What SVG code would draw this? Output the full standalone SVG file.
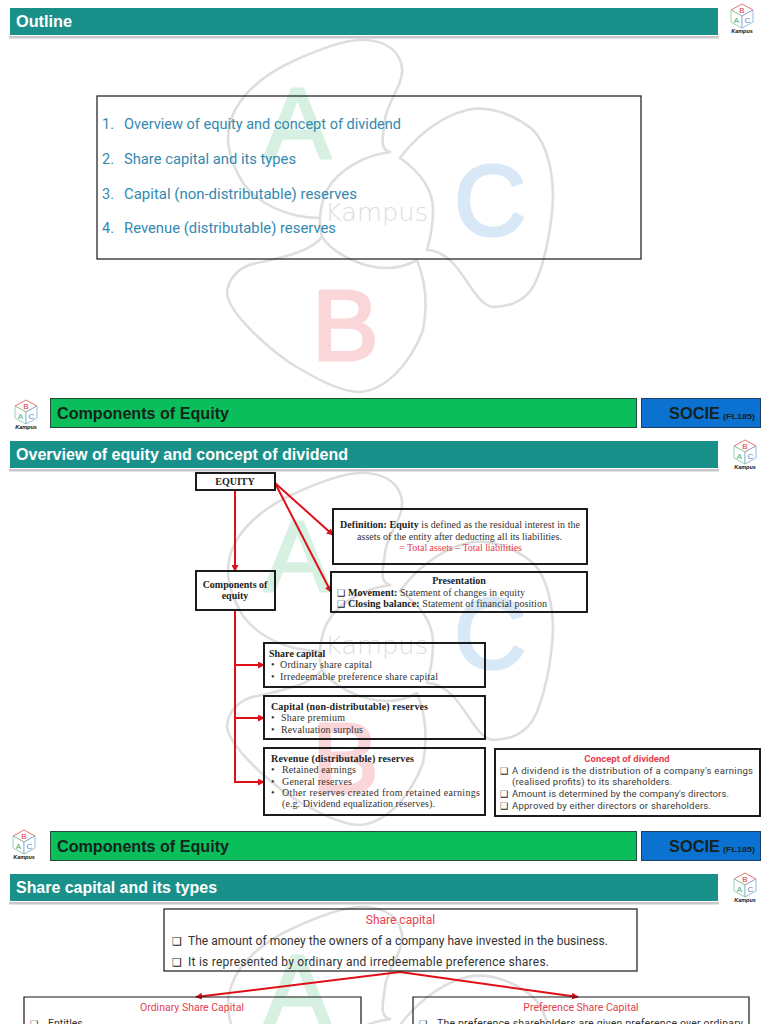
<svg xmlns="http://www.w3.org/2000/svg" width="768" height="1024" viewBox="0 0 768 1024">
<style>
text{font-family:"Liberation Sans",Arial,sans-serif}
.hd{font-weight:700;font-size:16px;fill:#fff}
.gt{font-weight:700;font-size:16px;fill:#14241c}
.bx{fill:none;stroke:#111;stroke-width:1.9}
.bxt{fill:none;stroke:#161616;stroke-width:1.2}
.ol{font-family:Roboto,"Liberation Sans",sans-serif;font-size:14.5px;fill:#3389b0}
.s{font-family:"Liberation Serif","DejaVu Serif",serif;font-size:10px;fill:#333}
.sb{font-family:"Liberation Serif","DejaVu Serif",serif;font-size:10px;font-weight:700;fill:#222}
.r{font-family:Roboto,"Liberation Sans",sans-serif;font-size:9.5px;fill:#3a3a3a}
.rr{font-family:Roboto,"Liberation Sans",sans-serif;fill:#e5404f}
.rl{font-family:Roboto,"Liberation Sans",sans-serif;font-size:12px;fill:#333}
.ck{font-family:"DejaVu Sans",sans-serif;font-size:9px;fill:#222}
.lk{fill:none;stroke:#e01019;stroke-width:2}
.wl{fill:none;stroke:#dedede;stroke-width:2.6;stroke-linejoin:round;stroke-linecap:round}
.ltr{stroke-width:3;stroke-linejoin:round;font-size:100px}
.lg{fill:#fff;stroke-width:.8}
</style>
<defs>
<marker id="ah" viewBox="0 0 8 8" refX="7" refY="4" markerWidth="3.500" markerHeight="3.500" orient="auto"><path d="M0 0L8 4L0 8z" fill="#e01019"/></marker>
<g id="wm">
<path class="wl" d="M390 152C378 150 384 132 385 120C386 104 404 84 402 68C400 52 388 42 367 40C345 38 310 53 285 65C262 77 240 95 232 117C224 137 229 160 243 183C257 202 285 218 320 218"/>
<path class="wl" d="M390 152C365 155 338 170 327 190C320 204 318 224 322 237C332 252 360 268 387 268C400 268 410 264 417 260"/>
<path class="wl" d="M322 237C312 250 290 256 257 263C240 266 228 278 227 293C228 310 258 340 290 363C315 378 340 392 360 392C385 390 410 365 423 330C427 310 427 285 417 260"/>
<path class="wl" d="M400 158C412 142 435 118 467 110C490 105 515 115 533 130C548 145 553 175 553 197C552 225 545 265 533 287C525 300 510 307 493 307C478 305 470 282 453 263C445 255 435 250 427 250"/>
<path class="wl" d="M400 158C420 172 433 190 433 210C433 225 430 240 427 250"/>
<text class="ltr" x="264" y="158" fill="#d6f1e2" stroke="#d6f1e2">A</text>
<text class="ltr" x="312" y="360" fill="#fbd6d9" stroke="#fbd6d9">B</text>
<text class="ltr" x="454" y="235" fill="#d8e8f6" stroke="#d8e8f6">C</text>
<text x="325" y="221" font-size="25" font-weight="200" fill="#dddddd" style="font-family:'DejaVu Sans',sans-serif" textLength="103" lengthAdjust="spacingAndGlyphs">Kampus</text>
</g>
<g id="logo">
<path class="lg" stroke="#d9534f" d="M0-12L11-6L0 0L-11-6z"/>
<path class="lg" stroke="#7fc99c" d="M-11-6L0 0V12L-11 6z"/>
<path class="lg" stroke="#7fa8d6" d="M11-6L0 0V12L11 6z"/>
<text x="0" y="-3.500" font-size="8" text-anchor="middle" fill="#d9333f">B</text>
<text x="-5.500" y="6.500" font-size="8" text-anchor="middle" fill="#3fae6f">A</text>
<text x="5.500" y="6.500" font-size="8" text-anchor="middle" fill="#4a86c8">C</text>
<text x="0" y="17" font-size="5.500" font-weight="700" font-style="italic" text-anchor="middle" fill="#111">Kampus</text>
</g>
</defs>
<rect width="768" height="1024" fill="#fff"/>
<g id="watermarks">
<use href="#wm"/>
<use href="#wm" y="433"/>
<use href="#wm" y="867"/>
</g>

<g id="outline-header">
<rect x="9" y="36" width="710" height="2.500" fill="#c9c6cc"/>
<rect x="10" y="8" width="708" height="27" fill="#19908a"/>
<text class="hd" x="16" y="27" textLength="56" lengthAdjust="spacingAndGlyphs">Outline</text>
<use href="#logo" x="742" y="16"/>
</g>
<g id="outline-box">
<rect class="bxt" x="97" y="96" width="544" height="163"/>
<text class="ol" x="102" y="129">1.</text><text class="ol" x="124" y="129" textLength="277" lengthAdjust="spacingAndGlyphs">Overview of equity and concept of dividend</text>
<text class="ol" x="102" y="164">2.</text><text class="ol" x="124" y="164" textLength="172" lengthAdjust="spacingAndGlyphs">Share capital and its types</text>
<text class="ol" x="102" y="199">3.</text><text class="ol" x="124" y="199" textLength="233" lengthAdjust="spacingAndGlyphs">Capital (non-distributable) reserves</text>
<text class="ol" x="102" y="233">4.</text><text class="ol" x="124" y="233" textLength="212" lengthAdjust="spacingAndGlyphs">Revenue (distributable) reserves</text>
</g>

<g id="banner-1">
<use href="#logo" x="26" y="412"/>
<rect x="50.500" y="398.500" width="586" height="29" fill="#0abf5b" stroke="#2a4a36"/>
<rect x="641.500" y="398.500" width="119" height="29" fill="#0c72d2" stroke="#1f3f60"/>
<text class="gt" x="57" y="419" textLength="172" lengthAdjust="spacingAndGlyphs">Components of Equity</text>
<text class="gt" x="669" y="419" textLength="51" lengthAdjust="spacingAndGlyphs">SOCIE</text>
<text x="723" y="419" font-size="7.500" font-weight="700" fill="#14241c" textLength="32" lengthAdjust="spacingAndGlyphs">(FL185)</text>
</g>

<g id="overview-header">
<rect x="9" y="469" width="710" height="2.500" fill="#c9c6cc"/>
<rect x="10" y="441" width="708" height="27" fill="#19908a"/>
<text class="hd" x="16" y="460" textLength="332" lengthAdjust="spacingAndGlyphs">Overview of equity and concept of dividend</text>
<use href="#logo" x="745" y="452"/>
</g>

<g id="connectors-overview">
<path class="lk" marker-end="url(#ah)" d="M235 490V571"/>
<path class="lk" marker-end="url(#ah)" d="M275 483L333 535"/>
<path class="lk" marker-end="url(#ah)" d="M275 483L331 592"/>
<path class="lk" d="M235 610V782"/>
<path class="lk" marker-end="url(#ah)" d="M235 665H264"/>
<path class="lk" marker-end="url(#ah)" d="M235 718H264"/>
<path class="lk" marker-end="url(#ah)" d="M234 782H264"/>
</g>
<g id="equity">
<rect class="bx" x="196" y="473" width="79" height="17"/>
<text class="sb" x="235" y="485" text-anchor="middle">EQUITY</text>
</g>
<g id="components">
<rect class="bx" x="196" y="571" width="79" height="39"/>
<text class="sb" x="235" y="588" text-anchor="middle">Components of</text>
<text class="sb" x="235" y="599" text-anchor="middle">equity</text>
</g>
<g id="definition">
<rect class="bx" x="333" y="509" width="254" height="55"/>
<text class="s" x="340" y="528" textLength="240" lengthAdjust="spacing"><tspan class="sb">Definition: Equity</tspan> is defined as the residual interest in the</text>
<text class="s" x="357" y="540" textLength="205" lengthAdjust="spacing">assets of the entity after deducting all its liabilities.</text>
<text class="s" x="399" y="551" textLength="123" lengthAdjust="spacing" style="fill:#e5404f">= Total assets – Total liabilities</text>
</g>
<g id="presentation">
<rect class="bx" x="331" y="572" width="256" height="40"/>
<text class="sb" x="459" y="584" text-anchor="middle">Presentation</text>
<text class="ck" x="337" y="596">❑</text>
<text class="s" x="348" y="596" textLength="177" lengthAdjust="spacing"><tspan class="sb">Movement:</tspan> Statement of changes in equity</text>
<text class="ck" x="337" y="607">❑</text>
<text class="s" x="348" y="607" textLength="199" lengthAdjust="spacing"><tspan class="sb">Closing balance:</tspan> Statement of financial position</text>
</g>
<g id="share-capital">
<rect class="bx" x="264" y="643" width="221" height="44"/>
<text class="sb" x="269" y="657">Share capital</text>
<text class="s" x="271" y="668">•</text><text class="s" x="280" y="668" textLength="92" lengthAdjust="spacing">Ordinary share capital</text>
<text class="s" x="271" y="680">•</text><text class="s" x="280" y="680" textLength="158" lengthAdjust="spacing">Irredeemable preference share capital</text>
</g>
<g id="capital-reserves">
<rect class="bx" x="264" y="696" width="221" height="43"/>
<text class="sb" x="271" y="710" textLength="157" lengthAdjust="spacing">Capital (non-distributable) reserves</text>
<text class="s" x="271" y="721">•</text><text class="s" x="281" y="721" textLength="64" lengthAdjust="spacing">Share premium</text>
<text class="s" x="271" y="733">•</text><text class="s" x="281" y="733" textLength="82" lengthAdjust="spacing">Revaluation surplus</text>
</g>
<g id="revenue-reserves">
<rect class="bx" x="264" y="748" width="221" height="67"/>
<text class="sb" x="271" y="762" textLength="143" lengthAdjust="spacing">Revenue (distributable) reserves</text>
<text class="s" x="271" y="773">•</text><text class="s" x="282" y="773" textLength="74" lengthAdjust="spacing">Retained earnings</text>
<text class="s" x="271" y="785">•</text><text class="s" x="282" y="785" textLength="70" lengthAdjust="spacing">General reserves</text>
<text class="s" x="271" y="796">•</text><text class="s" x="282" y="796" textLength="198" lengthAdjust="spacing">Other reserves created from retained earnings</text>
<text class="s" x="282" y="807" textLength="153" lengthAdjust="spacing">(e.g. Dividend equalization reserves).</text>
</g>
<g id="concept">
<rect class="bx" x="495" y="749" width="265" height="67"/>
<text class="rr" x="627" y="762" font-size="9.500" font-weight="700" text-anchor="middle">Concept of dividend</text>
<text class="ck" x="500" y="774">❑</text><text class="r" x="512" y="774" textLength="241" lengthAdjust="spacing">A dividend is the distribution of a company's earnings</text>
<text class="r" x="512" y="785" textLength="160" lengthAdjust="spacing">(realised profits) to its shareholders.</text>
<text class="ck" x="500" y="797">❑</text><text class="r" x="512" y="797" textLength="217" lengthAdjust="spacing">Amount is determined by the company's directors.</text>
<text class="ck" x="500" y="809">❑</text><text class="r" x="512" y="809" textLength="199" lengthAdjust="spacing">Approved by either directors or shareholders.</text>
</g>

<g id="banner-2">
<use href="#logo" x="24" y="842"/>
<rect x="50.500" y="831.500" width="586" height="29" fill="#0abf5b" stroke="#2a4a36"/>
<rect x="641.500" y="831.500" width="119" height="29" fill="#0c72d2" stroke="#1f3f60"/>
<text class="gt" x="57" y="852" textLength="172" lengthAdjust="spacingAndGlyphs">Components of Equity</text>
<text class="gt" x="669" y="852" textLength="51" lengthAdjust="spacingAndGlyphs">SOCIE</text>
<text x="723" y="852" font-size="7.500" font-weight="700" fill="#14241c" textLength="32" lengthAdjust="spacingAndGlyphs">(FL185)</text>
</g>

<g id="types-header">
<rect x="9" y="902" width="710" height="2.500" fill="#c9c6cc"/>
<rect x="10" y="874" width="708" height="27" fill="#19908a"/>
<text class="hd" x="16" y="893" textLength="201" lengthAdjust="spacingAndGlyphs">Share capital and its types</text>
<use href="#logo" x="745" y="885"/>
</g>

<g id="connectors-types">
<path class="lk" marker-end="url(#ah)" d="M400 972L196 997"/>
<path class="lk" marker-end="url(#ah)" d="M400 972L578 997"/>
</g>
<g id="share-capital-def">
<rect class="bxt" x="164" y="909" width="473" height="62"/>
<text class="rr" x="400.500" y="924" font-size="12" text-anchor="middle">Share capital</text>
<text class="ck" style="font-size:11px" x="172" y="945">❑</text><text class="rl" x="188" y="945" textLength="420" lengthAdjust="spacing">The amount of money the owners of a company have invested in the business.</text>
<text class="ck" style="font-size:11px" x="172" y="966">❑</text><text class="rl" x="188" y="966" textLength="361" lengthAdjust="spacing">It is  represented by ordinary and irredeemable preference shares.</text>
</g>
<g id="ordinary">
<path class="bxt" d="M24 1024V997H361V1024"/>
<text class="rr" x="192" y="1011" font-size="10.500" text-anchor="middle">Ordinary Share Capital</text>
<text class="ck" x="30" y="1027">❑</text><text class="rl" style="font-size:10.500px" x="48" y="1027">Entitles</text>
</g>
<g id="preference">
<path class="bxt" d="M413 1024V997H749V1024"/>
<text class="rr" x="581" y="1011" font-size="10.500" text-anchor="middle">Preference Share Capital</text>
<text class="ck" x="419" y="1027">❑</text><text class="rl" style="font-size:10.500px" x="437" y="1027" textLength="306" lengthAdjust="spacing">The preference shareholders are given preference over ordinary</text>
</g>
</svg>
